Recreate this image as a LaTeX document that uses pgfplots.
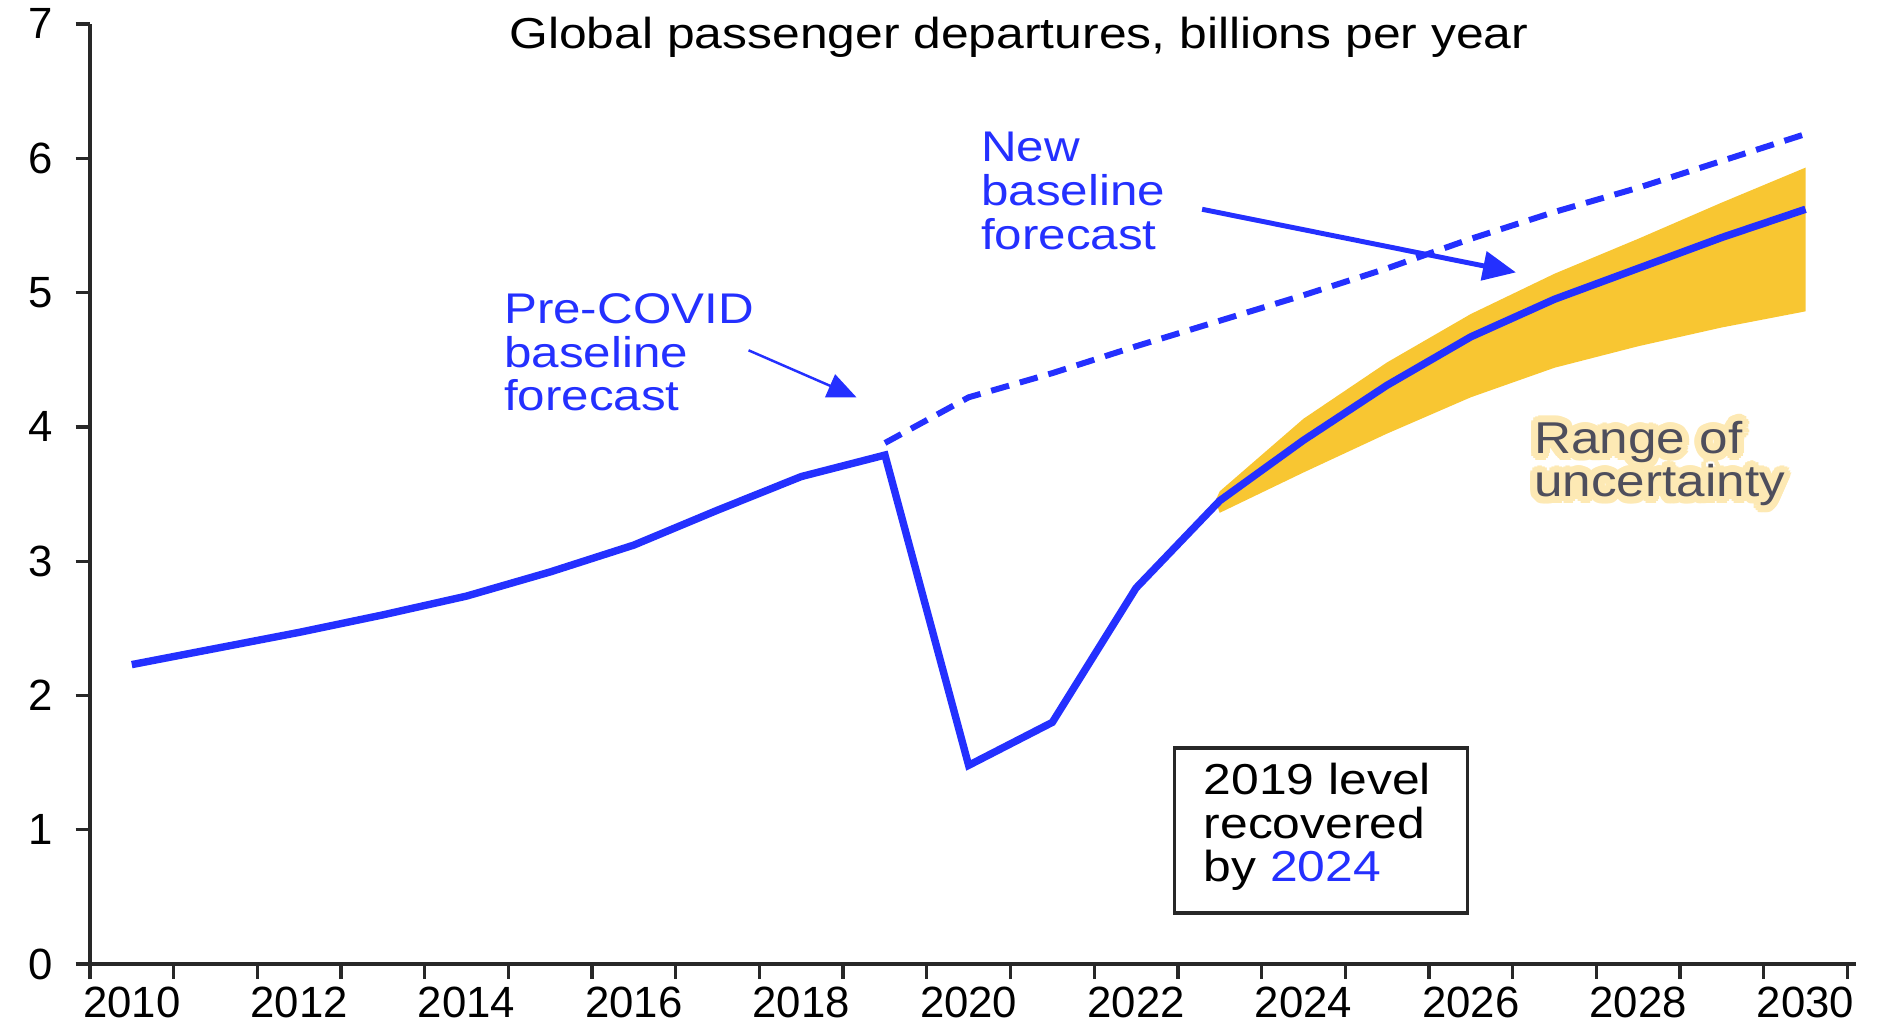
\documentclass[border=0pt]{standalone}
\usepackage{fontspec}
\setmainfont{Liberation Sans}[FakeStretch=1.15]
\newfontfamily\tickfont{Liberation Sans}
\usepackage{pgfplots}
\pgfplotsset{compat=1.18}
\usetikzlibrary{arrows.meta}
\usepackage[copies]{contour}

\definecolor{lineblue}{RGB}{36,48,255}
\definecolor{bandyellow}{RGB}{248,198,50}
\definecolor{rangegray}{RGB}{78,78,92}
\definecolor{glow}{RGB}{253,233,180}
\definecolor{axisgray}{RGB}{40,40,40}

\begin{document}
\begin{tikzpicture}
\begin{axis}[
  scale only axis,
  width=428pt, height=227.9pt,
  xmin=2009.5, xmax=2030.6,
  ymin=0, ymax=7,
  axis lines=left,
  axis line style={-, line width=0.8pt, axisgray},
  xtick={2010,2012,...,2030},
  minor xtick={2009.5,2010.5,...,2030.5},
  ytick={0,1,...,7},
  major x tick style={draw=none},
  tick align=outside,
  major tick length=3.5pt,
  minor tick length=3.5pt,
  tick style={line width=0.8pt, axisgray},
  /pgf/number format/1000 sep={},
  /pgf/number format/assume math mode=true,
  scaled x ticks=false,
  ticklabel style={font=\tickfont\fontsize{10.6}{12}\selectfont, black},
  xticklabel style={yshift=1.5pt},
  yticklabel style={xshift=-2pt},
  clip=false,
]
% range of uncertainty (upper edge, then lower edge backwards)
\addplot[fill=bandyellow, draw=none] coordinates {
  (2022.95,3.45) (2023,3.52) (2024,4.06) (2025,4.48) (2026,4.84) (2027,5.14)
  (2028,5.40) (2029,5.67) (2030,5.93)
  (2030,4.86) (2029,4.74) (2028,4.60) (2027,4.44) (2026,4.22)
  (2025,3.95) (2024,3.66) (2023,3.36)
} -- cycle;

% pre-COVID baseline forecast
\addplot[lineblue, line width=1.45pt, dash pattern=on 4.5pt off 2.7pt] coordinates {
  (2019,3.88) (2020,4.22) (2021,4.40) (2022,4.60) (2023,4.79) (2024,4.98)
  (2025,5.18) (2026,5.40) (2027,5.60) (2028,5.78) (2029,5.98) (2030,6.18)
};

% actual + new baseline forecast
\addplot[lineblue, line width=1.8pt] coordinates {
  (2010,2.23) (2011,2.35) (2012,2.47) (2013,2.60) (2014,2.74) (2015,2.92)
  (2016,3.12) (2017,3.38) (2018,3.63) (2019,3.79) (2020,1.48) (2021,1.80)
  (2022,2.80) (2023,3.45) (2024,3.90) (2025,4.31) (2026,4.67) (2027,4.95)
  (2028,5.18) (2029,5.41) (2030,5.62)
};

\node[anchor=center, font=\fontsize{10.5}{12}\selectfont] at (axis cs:2020.6,6.9)
  {Global passenger departures, billions per year};

\node[anchor=north west, inner sep=0pt, align=left, text=lineblue,
  font=\fontsize{10.4}{10.6}\selectfont] at (axis cs:2014.44,5.0)
  {Pre-COVID\\baseline\\forecast};
\draw[lineblue, line width=0.6pt, -{Triangle[length=7pt,width=6pt]}]
  (axis cs:2017.37,4.57) -- (axis cs:2018.66,4.22);

\node[anchor=north west, inner sep=0pt, align=left, text=lineblue,
  font=\fontsize{10.4}{10.6}\selectfont] at (axis cs:2020.14,6.2)
  {New\\baseline\\forecast};
\draw[lineblue, line width=1.2pt, -{Triangle[length=8pt,width=7pt]}]
  (axis cs:2022.79,5.62) -- (axis cs:2026.54,5.15);

% range label with a soft yellow halo
\contourlength{1.7pt}
\node[anchor=base west, inner sep=0pt, text=rangegray,
  font=\fontsize{10.8}{10.8}\selectfont] at (axis cs:2026.75,3.80)
  {\contour{glow}{Range of}};
\node[anchor=base west, inner sep=0pt, text=rangegray,
  font=\fontsize{10.8}{10.8}\selectfont] at (axis cs:2026.75,3.48)
  {\contour{glow}{uncertainty}};

\draw[line width=0.8pt, axisgray] (axis cs:2022.46,0.38) rectangle (axis cs:2025.96,1.61);
\node[anchor=north west, inner sep=0pt, align=left,
  font=\fontsize{10.5}{10.5}\selectfont] at (axis cs:2022.8,1.5)
  {2019 level\\recovered\\by \textcolor{lineblue}{2024}};

\coordinate (O) at (rel axis cs:0,0);
\coordinate (T) at (rel axis cs:1,1);
\end{axis}
\pgfresetboundingbox
\path ([shift={(-21.8pt,-15.9pt)}]O) rectangle ([shift={(5.4pt,5.8pt)}]T);
\end{tikzpicture}
\end{document}
